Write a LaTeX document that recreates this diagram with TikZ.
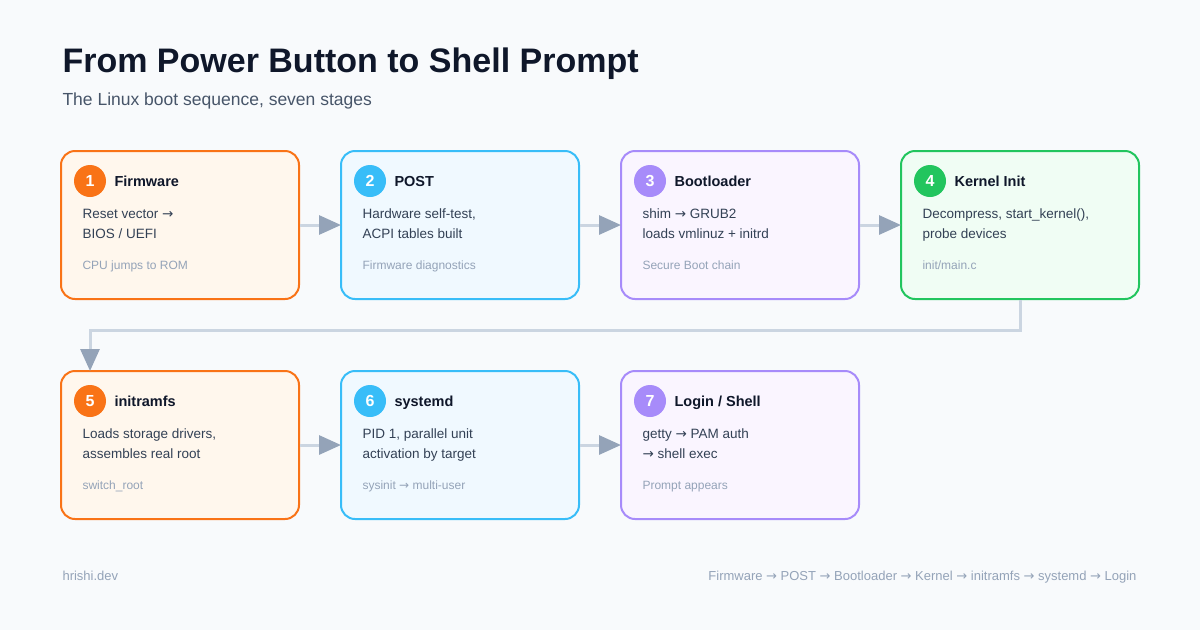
\documentclass[tikz,border=0pt]{standalone}
\usepackage{fontspec}
\setmainfont{Liberation Sans}
\newfontfamily\symfont{DejaVu Sans}
\usetikzlibrary{positioning, calc, arrows.meta}
\definecolor{bg}{HTML}{F8FAFC}
\definecolor{ink}{HTML}{0F172A}
\definecolor{sub}{HTML}{475569}
\definecolor{body}{HTML}{334155}
\definecolor{note}{HTML}{94A3B8}
\definecolor{wire}{HTML}{CBD5E1}
\definecolor{orangeL}{HTML}{F97316}\definecolor{orangeF}{HTML}{FFF7ED}
\definecolor{blueL}{HTML}{38BDF8}\definecolor{blueF}{HTML}{F0F9FF}
\definecolor{purpleL}{HTML}{A78BFA}\definecolor{purpleF}{HTML}{FAF5FF}
\definecolor{greenL}{HTML}{22C55E}\definecolor{greenF}{HTML}{F0FDF4}
\newcommand{\ar}{{\symfont\char"2192}}
\tikzset{
    x=1pt, y=1pt,
    stage/.style={draw=#1L, fill=#1F, line width=2pt, rounded corners=14pt,
        minimum width=238pt, minimum height=148pt, inner sep=0pt},
    badge/.style={circle, fill=#1L, minimum size=32pt, inner sep=0pt,
        text=white, font=\fontsize{16}{16}\selectfont\bfseries},
    head/.style={anchor=base west, text=ink, font=\fontsize{14.5}{15}\selectfont\bfseries},
    line/.style={anchor=base west, text=body, font=\fontsize{13.5}{14}\selectfont},
    small/.style={anchor=base west, text=note, font=\fontsize{12}{12}\selectfont},
    flow/.style={draw=wire, line width=3pt, -{Triangle[length=22pt,width=19pt,color=note]}, shorten >=-1pt},
    node distance=40pt,
}
% one stage card: name, number, colour, title, two lines, footnote
\newcommand{\card}[7]{
    \node[badge=#3] (#1n) at ($(#1.north west)+(30,-31)$) {#2};
    \node[head] (#1t) at ($(#1.north west)+(51,-36)$) {#4};
    \node[line] (#1a) at ($(#1.north west)+(19,-68)$) {#5};
    \node[line] (#1b) at ($(#1.north west)+(19,-88)$) {#6};
    \node[small] (#1c) at ($(#1.north west)+(19,-119)$) {#7};
}
\begin{document}
\begin{tikzpicture}
    \fill[bg] (0,0) rectangle (1200,-630);
    \useasboundingbox (0,0) rectangle (1200,-630);
    \node[anchor=base west, text=ink, font=\fontsize{34}{34}\selectfont\bfseries] (title) at (59,-72) {From Power Button to Shell Prompt};
    \node[anchor=base west, text=sub, font=\fontsize{17.5}{18}\selectfont] (subtitle) at (59,-105) {The Linux boot sequence, seven stages};

    \node[stage=orange, anchor=north west] (s1) at (60,-150) {};
    \node[stage=blue, right=of s1] (s2) {};
    \node[stage=purple, right=of s2] (s3) {};
    \node[stage=green, right=of s3] (s4) {};
    \node[stage=orange, anchor=north west] (s5) at (60,-370) {};
    \node[stage=blue, right=of s5] (s6) {};
    \node[stage=purple, right=of s6] (s7) {};

    \card{s1}{1}{orange}{Firmware}{Reset vector \ar}{BIOS / UEFI}{CPU jumps to ROM}
    \card{s2}{2}{blue}{POST}{Hardware self-test,}{ACPI tables built}{Firmware diagnostics}
    \card{s3}{3}{purple}{Bootloader}{shim \ar\ GRUB2}{loads vmlinuz + initrd}{Secure Boot chain}
    \card{s4}{4}{green}{Kernel Init}{Decompress, start\_kernel(),}{probe devices}{init/main.c}
    \card{s5}{5}{orange}{initramfs}{Loads storage drivers,}{assembles real root}{switch\_root}
    \card{s6}{6}{blue}{systemd}{PID 1, parallel unit}{activation by target}{sysinit \ar\ multi-user}
    \card{s7}{7}{purple}{Login / Shell}{getty \ar\ PAM auth}{\ar\ shell exec}{Prompt appears}

    \draw[flow] (s1.east) -- (s2.west);
    \draw[flow] (s2.east) -- (s3.west);
    \draw[flow] (s3.east) -- (s4.west);
    \draw[flow] (s4.south) -- ++(0,-30) -| (s5.north -| s5n);
    \draw[flow] (s5.east) -- (s6.west);
    \draw[flow] (s6.east) -- (s7.west);

    \node[anchor=base west, text=note, font=\fontsize{13}{13}\selectfont] (site) at (59,-580) {hrishi.dev};
    \node[anchor=base east, text=note, font=\fontsize{13}{13}\selectfont] (path) at (1140,-580) {Firmware \ar\ POST \ar\ Bootloader \ar\ Kernel \ar\ initramfs \ar\ systemd \ar\ Login};
\end{tikzpicture}
\end{document}
